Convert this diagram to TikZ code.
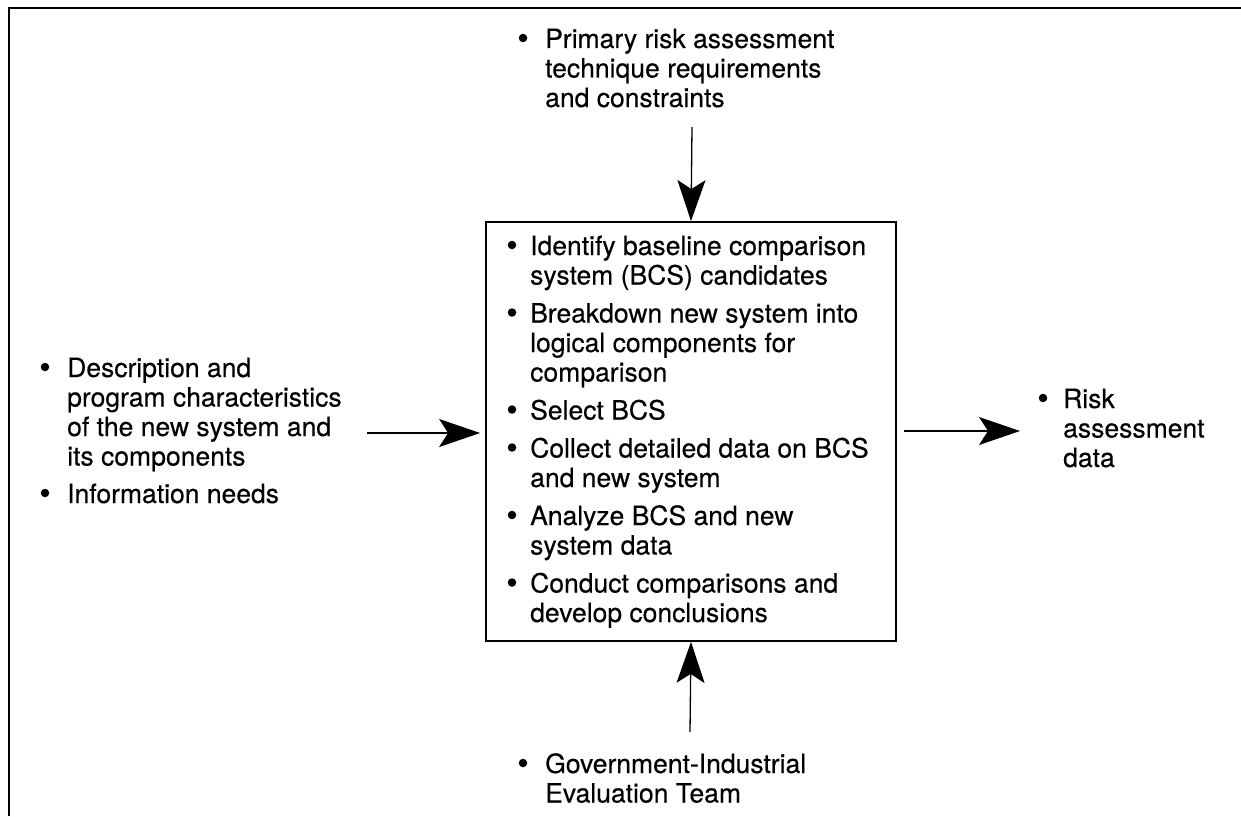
\documentclass[tikz,border=0pt]{standalone}
\usepackage{fontspec}
\setmainfont{TeX Gyre Heros}[FakeBold=0.25]
\usetikzlibrary{arrows.meta}
\newcommand{\mylines}[1]{\begin{tabular}[t]{@{}l@{}}#1\end{tabular}}
\tikzset{
  txt/.style={anchor=base west, inner sep=0pt, font=\fontsize{26.5}{29.5}\selectfont\addfontfeatures{FakeBold=0.3}},
  bul/.style={circle, fill=black, inner sep=0pt, minimum size=8.5pt},
  flow/.style={line width=1.3pt, -{Stealth[length=41pt,width=28pt,inset=9pt]}},
  framest/.style={line width=2.2pt},
  boxst/.style={draw, line width=1.8pt, inner sep=0pt}
}
\begin{document}
\begin{tikzpicture}[x=1pt,y=-1pt]
\useasboundingbox (0,0) rectangle (1241,816);
% outer frame (only top and left edges visible)
\coordinate (fBL) at (9,816);
\coordinate (fTL) at (9,8);
\coordinate (fTR) at (1241,8);
\draw[framest] (fBL) -- (fTL) -- (fTR);

% central box
\node[boxst, minimum width=410pt, minimum height=419pt] (box) at (691,431.5) {};

% box items
\node[bul] (b1) at (512,245) {};
\node[txt] (t1) at (530,255) {\mylines{Identify baseline comparison\\system (BCS) candidates}};
\node[bul] (b2) at (512,312.5) {};
\node[txt] (t2) at (530,322.5) {\mylines{Breakdown new system into\\logical components for\\comparison}};
\node[bul] (b3) at (512,409.5) {};
\node[txt] (t3) at (530,419.5) {\mylines{Select BCS}};
\node[bul] (b4) at (512,447.5) {};
\node[txt] (t4) at (530,457.5) {\mylines{Collect detailed data on BCS\\and new system}};
\node[bul] (b5) at (512,515) {};
\node[txt] (t5) at (530,525) {\mylines{Analyze BCS and new\\system data}};
\node[bul] (b6) at (512,582.5) {};
\node[txt] (t6) at (530,592.5) {\mylines{Conduct comparisons and\\develop conclusions}};

% top input
\node[bul] (bc) at (523,38) {};
\node[txt] (ctrl) at (545,48) {\mylines{Primary risk assessment\\technique requirements\\and constraints}};
% left inputs
\node[bul] (bi1) at (45,367) {};
\node[txt] (in1) at (67,377) {\mylines{Description and\\program characteristics\\of the new system and\\its components}};
\node[bul] (bi2) at (45,493) {};
\node[txt] (in2) at (67,503) {\mylines{Information needs}};
% right output
\node[bul] (bo) at (1043,398) {};
\node[txt] (out) at (1063,408) {\mylines{Risk\\assessment\\data}};
% bottom mechanism
\node[bul] (bm) at (523,763) {};
\node[txt] (mech) at (545,773) {\mylines{Government-Industrial\\Evaluation Team}};

% connectors
\coordinate (topS) at (692,127);
\coordinate (botS) at (690,732);
\coordinate (inS) at (367,433);
\coordinate (outE) at (1020,431);
\draw[flow] (topS) -- (box.north);
\draw[flow] (botS) -- (box.south);
\draw[flow, shorten >=5pt] (inS) -- (inS -| box.west);
\draw[flow, shorten <=7pt] (outE -| box.east) -- (outE);
\end{tikzpicture}
\end{document}
